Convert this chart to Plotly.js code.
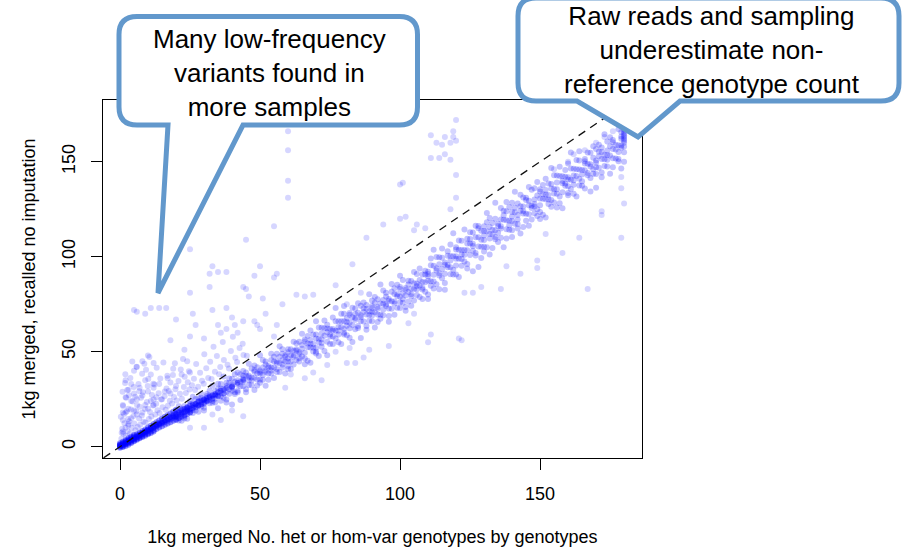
<!DOCTYPE html>
<html><head><meta charset="utf-8">
<script src="https://cdn.plot.ly/plotly-3.0.1.min.js"></script>
<style>html,body{margin:0;padding:0;background:#fff}#chart{width:902px;height:550px}</style>
</head><body><div id="chart"></div>
<script>
const xTickVals = [0, 50, 100, 150];
const yTickVals = [0, 50, 100, 150];
const xTitle = "1kg merged No. het or hom-var genotypes by genotypes";
const yTitle = "1kg merged, recalled no imputation";
const calloutLeft = ["Many low-frequency", "variants found in", "more samples"];
const calloutRight = ["Raw reads and sampling", "underestimate non-", "reference genotype count"];
const diagonal = [-10, 200];

// dense core near the origin: [x, [y values]]
const coreColumns = [
[0,[0,0.6,1.2,0.3,1.8,0.9,-0.5]],[1,[0.7,1.5,0.2,1.9,1.1,2.6,-0.2]],[2,[1.6,2.4,1.1,2.9,1.9,3.4,0.4]],[3,[2.3,3.1,1.8,3.7,2.7,4.4,1.0]],
[4,[3.2,3.9,2.5,4.6,3.5,2.0,5.2]],[5,[4.0,4.8,3.3,5.5,4.3,2.9,6.1]],[6,[4.9,5.6,4.1,6.4,5.2,3.7]],[7,[5.7,6.5,4.9,7.3,6.0,4.4]],
[8,[6.6,7.3,5.6,8.2,6.9,5.1]],[9,[7.4,8.2,6.4,9.1,7.7,5.8]],[10,[8.2,9.0,7.1,10.1,8.6,6.5]],[11,[9.0,9.9,7.9,11.0,9.4,7.2]],
[12,[9.9,10.7,8.6,12.0,10.3,8.0]],[13,[10.7,11.6,9.3,12.9,11.1]],[14,[11.5,12.4,10.1,13.8,11.9]],[15,[12.3,13.3,10.8,14.8,12.8]],
[16,[13.0,14.1,11.5,15.7,13.6]],[17,[13.8,15.0,12.2,16.6,14.4]],[18,[14.5,15.8,12.9,17.5,15.2]],[19,[15.3,16.7,13.6,18.4,16.0]],
[20,[16.0,17.4,14.3,19.2]],[21,[16.8,18.1,15.0]],[22,[17.5,19.0,15.8]],[23,[18.3,19.8,16.5]],[24,[19.0,20.6,17.2]],[25,[19.8,21.5,18.0]],
[26,[20.2,21.9]],[27,[22.5,20.8]],[28,[21.7,23.6]],[29,[22.4,24.3]],[30,[24.8,23.1]],[31,[23.9,25.6]],
[32,[26.3]],[33,[25.2,27.0]],[34,[27.7]],[35,[28.6,26.8]],[36,[29.4]],[37,[28.0]],
[38,[30.9]],[40,[31.5]],[42,[33.6]],[44,[35.1]]
];

// main band: [x, [y values]]
const bandColumns = [
[20,[17,14,19.5,15.5,16]],[21,[13.8,18.3,21.3,15.3]],[22,[18.1,13.6,20.1,16.6,19.6]],[23,[15.9,18.4,21.4,14.9]],[24,[20.2,18.7,20.7,14.7,19.7]],
[25,[24,18,19,22.5]],[26,[20.8,17.8,22.8,26.3,19.3]],[27,[22.6,19.1,25.1,22.1]],[28,[21.9,18.4,23.9,25.4,21.4]],[29,[23.2,21.2,27.7,25.7]],
[30,[20.5,24.5,22.5,25,19]],[31,[26.7,27.7,24.2,24.7]],[32,[26.9,22.9,29.4,24.4,25.9]],[33,[23.1,27.1,32.1,24.1]],[34,[26.8,29.3,25.3,23.3,27.3]],
[35,[30.7,26.7,33.1,20.3]],[36,[30.6,28.2,26.6,33,24.2]],[37,[30.5,36.9,25.7,29.7]],[38,[28.8,24.8,32,33.6,23.2]],[39,[30.3,33.5,27.9,35.9]],
[40,[32.6,29.4,22.2,35.8,31.8,31]],[41,[27.8,34.2,38.2,28.6]],[42,[29.4,39,35,28.6,32.6]],[43,[34.2,38.2,24.6,31.8]],[44,[35.8,39.8,31.8,37.4,34.2]],
[45,[28.6,39,37.4,30.2]],[46,[34.9,36.5,32.5,43.7,37.3]],[47,[32.4,41.2,34.8,36.4]],[48,[39.5,29.9,42.7,36.3,40.3]],[49,[38.6,32.2,35.4,41.8]],
[50,[38.5,35.3,48.1,40.1,33.7,39.3]],[51,[37.7,45.7,35.3,41.7]],[52,[40.1,39.3,44.9,43.3,32.1]],[53,[42.5,38.5,41.7,35.3]],[54,[45.7,48.9,38.5,41.7,40.1]],
[55,[47.3,44.9,36.1,41.7]],[56,[44.1,48.9,39.3,44.9,40.9]],[57,[52.9,47.3,39.3,44.1]],[58,[48.9,43.3,41.7,51.3,45.7]],[59,[38.5,48.1,44.9,47.3]],
[60,[40.9,51.3,46.5,42.5,49.7,44.9]],[61,[51.3,40.9,48.1,44.9]],[62,[55.3,50.5,43.3,48.1,47.3]],[63,[54.5,45.7,50.5,51.3]],[64,[46.5,55.3,48.9,49.7,44.9]],
[65,[53.5,59.5,47.5,51.5]],[66,[43.4,56.4,49.4,55.4,46.4]],[67,[52.3,58.3,45.3,54.3]],[68,[52.2,56.2,44.2,54.2,61.2]],[69,[50.1,52.1,59.1,54.1]],
[70,[49,59,66,52,57,50]],[71,[62.8,56.8,54.8,47.8]],[72,[59.6,62.6,54.6,56.6,52.6]],[73,[66.4,62.4,50.4,58.4]],[74,[55.2,60.2,48.2,62.2,64.2]],
[75,[58,59,62,54]],[76,[68,58,61,54,62]],[77,[73,57,61,66]],[78,[59,55,63,66,61]],[79,[70,54,66,63]],
[80,[62,70,59,66,74,60]],[81,[65.7,63.7,58.7,67.7]],[82,[70.4,57.4,65.4,69.4,62.4]],[83,[73.1,68.1,64.1,55.1]],[84,[72.8,67.8,66.8,61.8,69.8]],
[85,[75.5,63.5,70.5,62.5]],[86,[68.2,69.2,74.2,57.2,66.2]],[87,[70.9,75.9,65.9,72.9]],[88,[69.6,61.6,74.6,72.6,63.6]],[89,[69.3,71.3,66.3,80.3]],
[90,[73,66,77,69,71,74]],[91,[62.8,78.8,70.8,75.8]],[92,[73.6,65.6,69.6,77.6,72.6]],[93,[69.4,85.4,75.4,67.4]],[94,[75.2,72.2,82.2,69.2,77.2]],
[95,[75,74,81,79]],[96,[65.8,77.8,72.8,76.8,68.8]],[97,[81.6,85.6,72.6,76.6]],[98,[75.4,83.4,80.4,69.4,76.4]],[99,[79.2,85.2,73.2,80.2]],
[100,[76,90,83,73,79,84]],[101,[77.8,75.8,87.8,80.8]],[102,[71.6,83.6,79.6,82.6,73.6]],[103,[87.4,81.4,76.4,85.4]],[104,[80.2,87.2,74.2,83.2,79.2]],
[105,[92,86,77,83]],[106,[82.9,90.9,79.9,85.9,84.4]],[107,[84.8,78.8,87.8,93.8]],[108,[82.7,86.7,77.7,90.7,83.7]],[109,[90.6,81.6,86.6,92.6]],
[110,[80.1,90.9,87.3,92.1,77.7,89.7]],[111,[99.1,84.7,87.1,95.5]],[112,[90.5,83.3,95.3,103.7,86.9]],[113,[93.9,85.5,99.9,92.7]],[114,[91.3,82.9,96.1,99.7,90.1]],
[115,[93.5,88.7,104.3,99.5]],[116,[86.2,95.8,91,97,82.6]],[117,[100.5,102.9,94.5,95.7]],[118,[100.4,90.8,106.4,94.4,98]],[119,[90.7,100.3,112.3,93.1]],
[120,[99,105,95.4,90.6,100.2,103.8]],[121,[98.9,108.5,89.3,103.7]],[122,[101.2,98.8,108.4,95.2,103.6]],[123,[114.3,97.5,103.5,101.1]],[124,[96.2,107,109.4,93.8,103.4]],
[125,[109.3,100.9,112.9,106.9]],[126,[103.2,92.4,112.8,106.8,105.6]],[127,[100.7,110.3,116.3,101.9]],[128,[115,94.6,105.4,110.2,116.2]],[129,[105.3,113.7,108.9,99.3]],
[130,[116,113.6,102.8,108.8,111.2,105.2]],[131,[123,113.4,105,118.2]],[132,[109.6,112,115.6,101.2,120.4]],[133,[111.8,117.8,114.2,104.6]],[134,[110.4,120,114,109.2,128.4]],
[135,[117.4,107.8,116.2,112.6]],[136,[125.6,110,119.6,116,114.8]],[137,[124.2,121.8,105,119.4]],[138,[114.4,119.2,109.6,124,128.8]],[139,[114.2,119,116.6,126.2]],
[140,[123.6,110.4,118.8,121.2,128.4,114]],[141,[123.4,117.4,134.2,125.8]],[142,[114.8,122,128,119.6,117.2]],[143,[132.6,124.2,112.2,126.6]],[144,[122.8,126.4,115.6,131.2,124]],
[145,[119,129.8,122.6,131]],[146,[116.3,127.1,122.3,136.7,129.5]],[147,[119.6,126.8,125.6,135.2]],[148,[122.9,130.1,136.1,126.5,127.7]],[149,[121.4,132.2,139.4,125]],
[150,[130.7,119.9,135.5,127.1,134.3,123.5]],[151,[130.5,137.7,122.1,132.9]],[152,[130.3,135.1,120.7,132.7,141.1]],[153,[127.7,130.1,138.5,132.5]],[154,[126.3,138.3,146.7,129.9,135.9]],
[155,[128.5,142.9,135.7,133.3]],[156,[125.9,139.1,142.7,133.1,135.5]],[157,[131.7,147.3,142.5,128.1]],[158,[138.7,133.9,139.9,125.5,142.3]],[159,[145.7,137.3,138.5,142.1]],
[160,[133.5,149.1,137.1,140.7,132.3,141.9]],[161,[154.9,135.7,140.5,146.5]],[162,[137.9,133.1,142.7,146.3,140.3]],[163,[150.9,131.7,146.1,142.5]],[164,[141.1,150.7,137.5,145.9,155.5]],
[165,[139.7,145.7,143.3,137.3]],[166,[149.1,151.5,135.9,145.5,150.3]],[167,[142.9,154.9,148.9,144.1]],[168,[134.3,154.7,148.7,147.5,141.5]],[169,[152.1,158.1,143.7,146.1]],
[170,[143.5,149.5,150.7,156.7,136.3,147.1]],[171,[152.9,158.9,146.9,155.3]],[172,[151.5,141.9,157.5,155.1,144.3]],[173,[151.3,153.7,147.7,164.5]],[174,[155.9,147.5,160.7,151.1,153.5]],
[175,[158.1,143.7,162.9,153.3]],[176,[160.3,156.7,147.1,151.9,161.5]],[177,[156.5,151.7,170.9,158.9]],[178,[150.3,158.7,155.1,167.1,151.5]],[179,[162.1,158.5,157.3,165.7,163.3,146.5]],
[180,[160,163,166,168,170,172,164,158,162,167,171,175,174,169,165,161,155,150,177,173]]
];

// cloud above the diagonal at low counts: [x, y]
const upperPoints = [
[0.5,4.2],[1.2,6.8],[0.8,9.5],[2.1,5.6],[1.6,12.3],[2.7,8.1],[0.3,15.8],[2.4,18.6],[1.1,21.4],[3.0,11.2],[2.2,25.7],[0.9,28.9],[1.8,33.5],[2.9,14.6],[1.4,17.2],[0.6,7.4],[2.6,29.8],[1.9,38.2],
[3.6,6.9],[4.2,9.8],[3.3,13.4],[4.8,16.1],[5.5,8.7],[3.9,19.6],[5.1,12.2],[6.3,10.4],[4.5,23.8],[6.8,14.9],[5.8,18.7],[3.2,27.1],[6.1,21.9],[4.9,31.4],[5.4,26.3],[6.6,33.0],[3.7,36.2],[5.9,42.1],[4.4,44.8],[6.9,29.2],
[7.2,11.6],[8.4,13.1],[7.8,16.4],[9.1,12.8],[8.9,19.8],[10.3,14.6],[9.6,23.5],[11.2,15.9],[10.7,18.3],[7.5,25.7],[11.8,21.7],[8.2,28.6],[9.9,31.9],[11.4,27.2],[10.1,35.6],[7.9,38.4],[11.9,33.1],[8.7,43.7],[10.5,47.2],[9.3,40.5],[12.0,24.8],
[12.6,16.9],[13.4,19.2],[14.1,17.7],[12.9,22.6],[15.2,20.8],[14.7,24.9],[16.3,19.4],[13.8,28.1],[15.9,26.6],[17.1,21.5],[16.6,30.7],[12.3,32.8],[17.8,24.2],[14.4,35.9],[16.9,37.4],[13.1,41.6],[15.5,44.3],[17.4,29.3],[18.0,33.8],
[18.6,22.8],[19.3,26.1],[20.2,24.3],[19.8,30.2],[21.4,27.9],[22.1,25.2],[20.9,34.6],[22.8,31.4],[23.5,28.3],[18.9,37.8],[24.2,33.9],[21.7,40.6],[23.1,36.8],[24.8,30.1],[19.6,43.9],[22.5,46.2],[24.6,39.7],
[25.7,32.4],[26.4,35.8],[27.9,31.6],[28.6,38.9],[29.3,34.7],[30.8,41.3],[31.5,36.2],[32.2,44.7],[33.9,39.4],[34.6,47.8],[35.8,41.9],[37.1,45.6],[38.4,43.2],[39.6,50.4],[41.2,46.8],[42.7,51.9],[44.1,48.3],
[27.2,43.5],[30.1,48.7],[33.4,52.6],[36.7,55.1],[40.3,57.9],[43.8,54.2],[26.8,29.8],[29.9,33.1],[32.7,35.6],[35.4,38.2],[38.9,41.1],[41.8,44.6],[45.3,47.9],
[1,8],[1,14],[2,10],[2,18],[1,22],[3,12],[2,26],[3,20],[4,15],[3,30],[4,24],[5,19],[5,28],[1,18],[4,33],[2,35],[5,40],
[6,17],[6,25],[7,21],[7,31],[8,18],[8,27],[9,22],[9,35],[10,20],[10,29],[11,24],[11,38],[12,22],[12,31],[6,42],[8,45],[10,48],[12,44],
[13,26],[14,33],[15,25],[16,29],[17,36],[18,28],[19,41],[20,32],[22,38],[24,45],[25,39]
];

// sparse outliers: [x, y]
const outlierPoints = [
[5,72],[9,70],[14,73],[20,67],[33,72],[38,62],[46,79],[52,70],[55,58],[48,66],[42,60],[30,57],[25,58],[18,56],[23,51],[35,64],[40,68],[50,62],[58,75],
[25,81],[32,84],[45,83],[51,78],[38,73],[16.5,73],[11,73],[6,71],[26,70],[27,64],[36,60],[41,64],[44,66],[49,64],[56,64],
[60,166],[60,156],[60,140],[60,131],[100,138],[94,117],[88,110],[83,96],[102,121],[106,117],[109,115],[120,131],[118,125],[120,143],[111,164],[113,160],[115,159],[118,160],[119,166],[119,163],[116,154],[114,152],[118,151],[111,152],[120,172],[120,161],[116,163],
[55,116],[45,109],[101,139],[100,120],[105,114],[33,95],[35,92],[50,95],[55,89],[25,104],[44,84],[38,92],[32,91],[48,90],[56,91],
[179,110],[179,136],[179,142],[180,128],[167,83],[121,57],[111,59],[110,55],[136,83],[126,81],[123,81],[129,84],[122,56],
[59,31],[66,36],[72,35],[61,38],[69,39],[74,43],[81,44],[84,44],[87,47],[89,51],[96,53],[77,50],[82,52],[103,65],[105,70],
[63,80],[66,79],[69,80],[77,85],[86,81],[81,75],
[44,16],[25,10],[30,10],[40,19],[36,14],[33,17],
[155,146],[160,150],[162,154],[166,156],[170,160],[173,163],[176,166],
[172,124],[172,122],[164,110],[158,102],[149,98],[149,94],[143,91],[138,95],[152,112]
];

function fromColumns(cols) {
  const xs = [], ys = [];
  cols.forEach(([x, vals]) => vals.forEach(v => { xs.push(x); ys.push(v); }));
  return {x: xs, y: ys};
}
function fromPairs(pairs) {
  return {x: pairs.map(p => p[0]), y: pairs.map(p => p[1])};
}

const core = fromColumns(coreColumns);
const band = fromColumns(bandColumns);
const upper = fromPairs(upperPoints);
const outl = fromPairs(outlierPoints);

const FONT = "Liberation Sans, Arial, Helvetica, sans-serif";
function pts(d, alpha) {
  return {type: 'scatter', mode: 'markers', x: d.x, y: d.y, hoverinfo: 'skip',
    marker: {color: 'rgba(0,0,255,' + alpha + ')', size: 6, line: {width: 0}}, cliponaxis: true};
}
const traces = [
  pts(upper, 0.17), pts(outl, 0.16), pts(band, 0.24), pts(core, 0.4),
  {type: 'scatter', mode: 'lines', x: diagonal, y: diagonal, hoverinfo: 'skip',
   line: {color: '#111', width: 1.3, dash: '8px,6px'}}
];

// plot area in pixels
const L = 103, T = 100, W = 539, H = 358;
const BUBBLE = '#6298CC';
function toPaper(cmds) {
  return cmds.map(c => {
    const op = c[0]; const nums = c.slice(1); const out = [];
    for (let i = 0; i < nums.length; i += 2) {
      out.push(((nums[i] - L) / W).toFixed(5) + ',' + ((T + H - nums[i + 1]) / H).toFixed(5));
    }
    return op + out.join(' ');
  }).join(' ') + ' Z';
}
const r = 18;
const leftBubble = toPaper([
  ['M', 119 + r, 16.5], ['L', 417.5 - r, 16.5], ['Q', 417.5, 16.5, 417.5, 16.5 + r],
  ['L', 417.5, 125 - r], ['Q', 417.5, 125, 417.5 - r, 125], ['L', 243, 125], ['L', 158, 293],
  ['L', 168, 125], ['L', 119 + r, 125], ['Q', 119, 125, 119, 125 - r], ['L', 119, 16.5 + r],
  ['Q', 119, 16.5, 119 + r, 16.5]
]);
const rightBubble = toPaper([
  ['M', 518 + r, -2], ['L', 899 - r, -2], ['Q', 899, -2, 899, -2 + r], ['L', 899, 101 - r],
  ['Q', 899, 101, 899 - r, 101], ['L', 680, 101], ['L', 638, 137], ['L', 577, 101],
  ['L', 518 + r, 101], ['Q', 518, 101, 518, 101 - r], ['L', 518, -2 + r], ['Q', 518, -2, 518 + r, -2]
]);

const layout = {
  width: 902, height: 550,
  margin: {l: L, r: 902 - L - W, t: T, b: 550 - T - H, pad: 0},
  paper_bgcolor: '#fff', plot_bgcolor: '#fff', showlegend: false,
  font: {family: FONT, size: 18, color: '#000'},
  xaxis: {range: [-6.07, 186.4], tickvals: xTickVals, ticktext: xTickVals.map(String),
    ticks: 'outside', ticklen: 11, tickwidth: 1, tickcolor: '#000', showgrid: false, zeroline: false,
    showline: true, mirror: true, linecolor: '#000', linewidth: 1, ticklabelstandoff: 8,
    tickfont: {family: FONT, size: 18, color: '#000'},
    title: {text: xTitle, font: {family: FONT, size: 18, color: '#000'}, standoff: 27}},
  yaxis: {range: [-5.95, 182.5], tickvals: yTickVals, ticktext: yTickVals.map(String),
    ticks: 'outside', ticklen: 11, tickwidth: 1, tickcolor: '#000', showgrid: false, zeroline: false,
    showline: true, mirror: true, linecolor: '#000', linewidth: 1, tickangle: -90, ticklabelstandoff: 9,
    tickfont: {family: FONT, size: 18, color: '#000'},
    title: {text: yTitle, font: {family: FONT, size: 18, color: '#000'}, standoff: 18}},
  shapes: [
    {type: 'path', xref: 'paper', yref: 'paper', path: leftBubble, fillcolor: '#fff', line: {color: BUBBLE, width: 5}, layer: 'above'},
    {type: 'path', xref: 'paper', yref: 'paper', path: rightBubble, fillcolor: '#fff', line: {color: BUBBLE, width: 5}, layer: 'above'}
  ],
  annotations: [
    {xref: 'paper', yref: 'paper', x: (269 - L) / W, y: (T + H - 73) / H, xanchor: 'center', yanchor: 'middle',
     showarrow: false, text: calloutLeft.join('<br>'), font: {family: FONT, size: 26, color: '#000'}},
    {xref: 'paper', yref: 'paper', x: (712 - L) / W, y: (T + H - 50) / H, xanchor: 'center', yanchor: 'middle',
     showarrow: false, text: calloutRight.join('<br>'), font: {family: FONT, size: 26, color: '#000'}}
  ]
};
Plotly.newPlot('chart', traces, layout, {displayModeBar: false, staticPlot: true});
</script></body></html>
